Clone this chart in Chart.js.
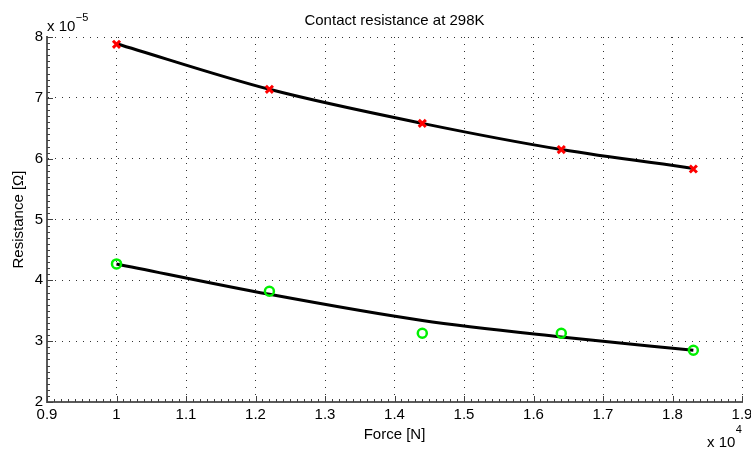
<!DOCTYPE html>
<html>
<head>
<meta charset="utf-8">
<title>Contact resistance at 298K</title>
<script src="https://cdn.jsdelivr.net/npm/chart.js@4.4.1/dist/chart.umd.min.js"></script>
<style>
  html, body { margin: 0; padding: 0; background: #fff; }
  canvas { display: block; }
</style>
</head>
<body>
<canvas id="chart" width="751" height="449"></canvas>
<script>
// measured contact resistance, force in N, resistance in ohm
const force = [10000, 12200, 14400, 16400, 18300];
const resistanceA = [7.88e-5, 7.14e-5, 6.58e-5, 6.15e-5, 5.83e-5];   // red crosses
const resistanceB = [4.27e-5, 3.82e-5, 3.13e-5, 3.13e-5, 2.85e-5];   // green circles
// fitted curves, sampled at the same forces
const fitA = [7.89e-5, 7.14e-5, 6.58e-5, 6.15e-5, 5.84e-5];
const fitB = [4.27e-5, 3.77e-5, 3.34e-5, 3.07e-5, 2.85e-5];
// axis ranges and major step
const xRange = [9000, 19000];
const xStep = 1000;
const yRange = [2e-5, 8e-5];
const yStep = 1e-5;

const FONT = "'Liberation Sans', Arial, Helvetica, sans-serif";

const pts = ys => force.map((f, i) => ({ x: f, y: ys[i] }));

// inward major/minor ticks and the power-of-ten multipliers
const matlabAxes = {
    id: 'matlabAxes',
    beforeDatasetsDraw(chart) {
        const { ctx, chartArea: a, scales: { x, y } } = chart;
        ctx.save();
        ctx.strokeStyle = '#404040';
        ctx.lineWidth = 1;
        ctx.beginPath();
        const nx = Math.round((xRange[1] - xRange[0]) / (xStep / 10));
        for (let i = 0; i <= nx; i++) {
            const px = Math.round(x.getPixelForValue(xRange[0] + i * xStep / 10)) + 0.5;
            const len = i % 10 === 0 ? 6 : 3;
            ctx.moveTo(px, a.bottom);
            ctx.lineTo(px, a.bottom - len);
        }
        const ny = Math.round((yRange[1] - yRange[0]) / (yStep / 10));
        for (let i = 0; i <= ny; i++) {
            const py = Math.round(y.getPixelForValue(yRange[0] + i * yStep / 10)) + 0.5;
            const len = i % 10 === 0 ? 6 : 3;
            ctx.moveTo(a.left, py);
            ctx.lineTo(a.left + len, py);
        }
        ctx.stroke();
        ctx.restore();
    },
    afterDraw(chart) {
        const { ctx, chartArea: a } = chart;
        ctx.save();
        ctx.fillStyle = '#000';
        ctx.textBaseline = 'alphabetic';
        ctx.textAlign = 'left';
        // y multiplier, above the axis
        ctx.font = '15px ' + FONT;
        ctx.fillText('x 10', a.left, 30.5);
        let w = ctx.measureText('x 10').width;
        ctx.font = '11px ' + FONT;
        ctx.fillText('\u22125', a.left + w + 0.5, 21);
        // x multiplier, below the right end
        ctx.font = '15px ' + FONT;
        ctx.fillText('x 10', 707, 447);
        w = ctx.measureText('x 10').width;
        ctx.font = '11px ' + FONT;
        ctx.fillText('4', 707 + w + 0.5, 433);
        ctx.restore();
    }
};

const gridStyle = {
    color: '#333',
    lineWidth: 1,
    drawTicks: false,
};
const borderStyle = {
    display: true,
    color: '#5a5a5a',
    width: 2,
    dash: [1, 6],
};

new Chart(document.getElementById('chart'), {
    type: 'scatter',
    data: {
        datasets: [
            {
                label: 'fit A',
                data: pts(fitA),
                showLine: true,
                borderColor: '#000',
                borderWidth: 3,
                pointRadius: 0,
                cubicInterpolationMode: 'monotone',
                order: 1,
            },
            {
                label: 'fit B',
                data: pts(fitB),
                showLine: true,
                borderColor: '#000',
                borderWidth: 3,
                pointRadius: 0,
                cubicInterpolationMode: 'monotone',
                order: 1,
            },
            {
                label: 'A',
                data: pts(resistanceA),
                showLine: false,
                pointStyle: 'crossRot',
                pointRadius: 5,
                pointBorderWidth: 3,
                pointBorderColor: '#ff0000',
                pointBackgroundColor: '#ff0000',
                order: 0,
            },
            {
                label: 'B',
                data: pts(resistanceB),
                showLine: false,
                pointStyle: 'circle',
                pointRadius: 4.5,
                pointBorderWidth: 2.5,
                pointBorderColor: '#00f000',
                pointBackgroundColor: 'rgba(0,0,0,0)',
                order: 0,
            },
        ],
    },
    options: {
        responsive: false,
        animation: false,
        devicePixelRatio: 1,
        layout: { padding: { top: 0, right: 9, bottom: 0, left: 0 } },
        plugins: {
            legend: { display: false },
            tooltip: { enabled: false },
            title: {
                display: true,
                fullSize: false,
                text: 'Contact resistance at 298K',
                color: '#000',
                font: { family: FONT, size: 15, weight: 'normal' },
                padding: { top: 12, bottom: 7 },
            },
        },
        scales: {
            x: {
                type: 'linear',
                min: xRange[0],
                max: xRange[1],
                grid: gridStyle,
                border: borderStyle,
                ticks: {
                    stepSize: xStep,
                    padding: 4,
                    color: '#000',
                    font: { family: FONT, size: 15 },
                    maxRotation: 0,
                    autoSkip: false,
                    callback: v => String(v / 1e4),
                },
                title: {
                    display: true,
                    text: 'Force [N]',
                    color: '#000',
                    font: { family: FONT, size: 15 },
                    padding: { top: 0, bottom: 5 },
                },
                afterFit(scale) {
                    scale.height = 47;
                    scale.paddingLeft = 0;
                    scale.paddingRight = 0;
                },
            },
            y: {
                type: 'linear',
                min: yRange[0],
                max: yRange[1],
                grid: gridStyle,
                border: borderStyle,
                ticks: {
                    stepSize: yStep,
                    padding: 4,
                    color: '#000',
                    font: { family: FONT, size: 15 },
                    callback: v => String(Math.round(v * 1e5)),
                },
                title: {
                    display: true,
                    text: 'Resistance [\u03A9]',
                    color: '#000',
                    font: { family: FONT, size: 15 },
                    padding: { top: 9.5, bottom: 0 },
                },
                afterFit(scale) {
                    scale.width = 47;
                    scale.paddingTop = 0;
                    scale.paddingBottom = 0;
                },
            },
        },
    },
    plugins: [matlabAxes],
});
</script>
</body>
</html>
